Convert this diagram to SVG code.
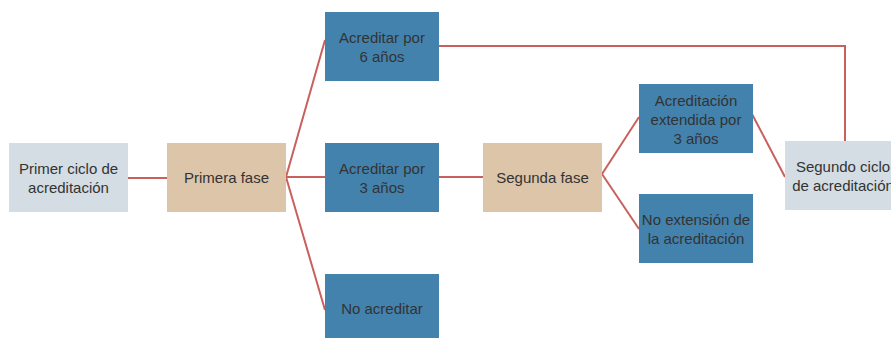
<svg xmlns="http://www.w3.org/2000/svg" width="891" height="338" viewBox="0 0 891 338">
<style>
.t{font-family:"Liberation Sans",Arial,sans-serif;font-size:15px;fill:#333333;text-anchor:middle}
.gray{fill:#d3dde3}
.tan{fill:#dcc5a9}
.blue{fill:#4382ad}
.c{fill:none;stroke:#c8605c;stroke-width:2}
</style>
<rect width="891" height="338" fill="#ffffff"/>
<g id="connectors">
<line class="c" x1="128" y1="178" x2="167" y2="178"/>
<line class="c" x1="286" y1="177" x2="325" y2="40"/>
<line class="c" x1="286" y1="177" x2="325" y2="177"/>
<line class="c" x1="286" y1="177" x2="325" y2="310"/>
<polyline class="c" points="439,46 845,46 845,142"/>
<line class="c" x1="439" y1="177" x2="483" y2="177"/>
<line class="c" x1="602" y1="174" x2="639" y2="117"/>
<line class="c" x1="602" y1="174" x2="639" y2="229"/>
<line class="c" x1="752" y1="114" x2="785" y2="177"/>
</g>
<g id="n1"><rect class="gray" x="9" y="143" width="119" height="69"/><text class="t" x="68.5" y="174">Primer ciclo de</text><text class="t" x="68.5" y="193">acreditación</text></g>
<g id="n2"><rect class="tan" x="167" y="143" width="119" height="69"/><text class="t" x="226.5" y="183">Primera fase</text></g>
<g id="n3"><rect class="blue" x="325" y="12" width="114" height="69"/><text class="t" x="382" y="43">Acreditar por</text><text class="t" x="382" y="62">6 años</text></g>
<g id="n4"><rect class="blue" x="325" y="143" width="114" height="69"/><text class="t" x="382" y="174">Acreditar por</text><text class="t" x="382" y="193">3 años</text></g>
<g id="n5"><rect class="blue" x="325" y="274" width="114" height="69"/><text class="t" x="382" y="314">No acreditar</text></g>
<g id="n6"><rect class="tan" x="483" y="143" width="119" height="69"/><text class="t" x="542.5" y="183">Segunda fase</text></g>
<g id="n7"><rect class="blue" x="639" y="84" width="114" height="69"/><text class="t" x="696" y="106">Acreditación</text><text class="t" x="696" y="125">extendida por</text><text class="t" x="696" y="144">3 años</text></g>
<g id="n8"><rect class="blue" x="639" y="194" width="114" height="69"/><text class="t" x="696" y="225">No extensión de</text><text class="t" x="696" y="244">la acreditación</text></g>
<g id="n9"><rect class="gray" x="785" y="141" width="119" height="69"/><text class="t" x="843" y="172">Segundo ciclo</text><text class="t" x="843" y="191">de acreditación</text></g>
</svg>
